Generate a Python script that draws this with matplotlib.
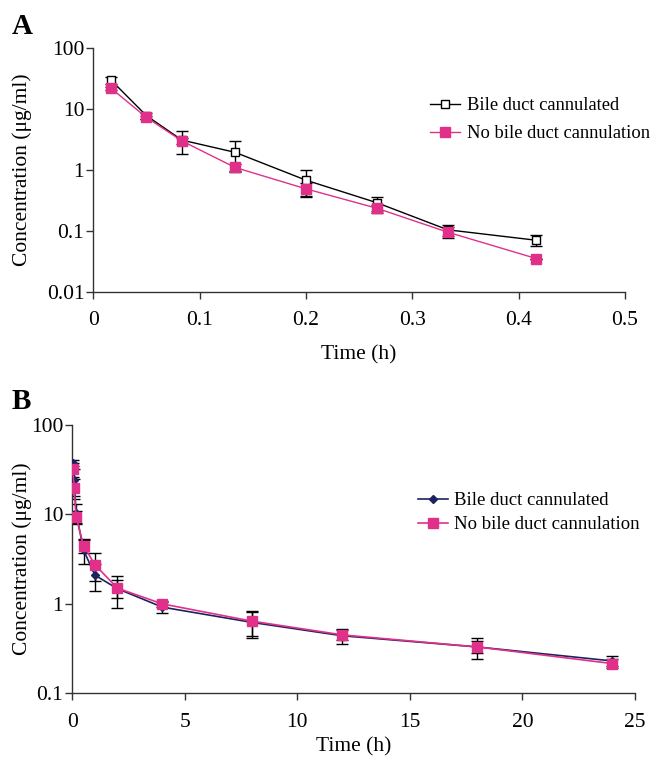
import numpy as np
import matplotlib.pyplot as plt
from matplotlib.ticker import FixedLocator, FuncFormatter, NullLocator

plt.rcParams['font.family'] = ['Liberation Serif', 'DejaVu Serif']
plt.rcParams['mathtext.fontset'] = 'stix'

# %% Panel A data (time in h)
tA = [1/60, 3/60, 5/60, 8/60, 12/60, 16/60, 20/60, 25/60]
bileA = [30, 7.8, 3.1, 1.95, 0.68, 0.29, 0.104, 0.070]
bileA_err = [4, 0.8, 1.3, 1.0, 0.32, 0.075, 0.022, 0.014]
noA = [22, 7.3, 3.0, 1.1, 0.49, 0.235, 0.095, 0.035]
noA_err = [1.0, 0.4, 0.3, 0.17, 0.11, 0.035, 0.02, 0.0]

# %% Panel B data (time in h)
tB = [1/60, 5/60, 10/60, 0.5, 1, 2, 4, 8, 12, 18, 24]
bileB = [38, 24, 10.5, 4.0, 2.1, 1.48, 0.92, 0.62, 0.44, 0.33, 0.23]
bileB_err = [3, 8, 2.5, 1.2, 0.7, 0.58, 0.12, 0.2, 0.08, 0.09, 0.03]
noB = [32, 20, 9.4, 4.47, 2.75, 1.5, 1.0, 0.64, 0.45, 0.33, 0.215]
noB_err = [6, 5, 1.5, 0.8, 0.95, 0.35, 0.08, 0.2, 0.06, 0.05, 0.025]

pink = "#e0308a"
navy = "#1c2260"
fs = 15.5

fig = plt.figure(figsize=(6.52, 7.64), dpi=100)
axA = fig.add_axes([0.1431, 0.6182, 0.8155, 0.3186])
axB = fig.add_axes([0.1109, 0.0925, 0.8630, 0.3512])


def style(ax, yticks):
    ax.set_yscale("log")
    for s in ["top", "right"]:
        ax.spines[s].set_visible(False)
    for s in ["left", "bottom"]:
        ax.spines[s].set_color("#333333")
        ax.spines[s].set_linewidth(1.0)
    ax.yaxis.set_major_locator(FixedLocator(yticks))
    ax.yaxis.set_minor_locator(NullLocator())
    ax.yaxis.set_major_formatter(FuncFormatter(lambda v, p: "%g" % v))
    ax.tick_params(direction="out", length=5, width=1, color="#333333",
                   labelsize=fs)
    ax.tick_params(axis="x", pad=9)
    ax.tick_params(axis="y", pad=1.5)
    ax.set_ylabel("Concentration (μg/ml)", fontsize=fs)


# %% Panel A
axA.errorbar(tA, bileA, yerr=bileA_err, fmt="none", ecolor="black",
             elinewidth=1, capsize=4, capthick=1, zorder=2)
axA.errorbar(tA, noA, yerr=noA_err, fmt="none", ecolor="black",
             elinewidth=1, capsize=4, capthick=1, zorder=2)
axA.plot(tA, bileA, "-s", color="black", lw=1, mfc="white", mec="black",
         ms=6, mew=1, label="Bile duct cannulated", zorder=3)
axA.plot(tA, noA, "-s", color=pink, lw=1, mfc=pink, mec=pink,
         ms=6.5, label="No bile duct cannulation", zorder=4)
style(axA, [0.01, 0.1, 1, 10, 100])
axA.set_xlim(0, 0.5)
axA.set_ylim(0.01, 100)
axA.set_xticks([0, 0.1, 0.2, 0.3, 0.4, 0.5])
axA.xaxis.set_major_formatter(FuncFormatter(lambda v, p: "%g" % v))
axA.set_xlabel("Time (h)", fontsize=fs, labelpad=11)
axA.yaxis.set_label_coords(-0.115, 0.5)
axA.legend(loc="upper left", bbox_to_anchor=(0.616, 0.837), frameon=False,
           fontsize=13.3, handlelength=1.62, handletextpad=0.38,
           labelspacing=0.6, borderpad=0)

# %% Panel B
axB.errorbar(tB, bileB, yerr=bileB_err, fmt="none", ecolor="black",
             elinewidth=1, capsize=4, capthick=1, zorder=2)
axB.errorbar(tB, noB, yerr=noB_err, fmt="none", ecolor="black",
             elinewidth=1, capsize=4, capthick=1, zorder=2)
axB.plot(tB, bileB, "-D", color=navy, lw=1.2, mfc=navy, mec=navy,
         ms=4.5, label="Bile duct cannulated", zorder=3)
axB.plot(tB, noB, "-s", color=pink, lw=1.2, mfc=pink, mec=pink,
         ms=6.5, label="No bile duct cannulation", zorder=4)
style(axB, [0.1, 1, 10, 100])
axB.set_xlim(0, 25)
axB.set_ylim(0.1, 100)
axB.set_xticks([0, 5, 10, 15, 20, 25])
axB.set_xlabel("Time (h)", fontsize=fs, labelpad=4)
axB.yaxis.set_label_coords(-0.0716, 0.5)
axB.legend(loc="upper left", bbox_to_anchor=(0.597, 0.785), frameon=False,
           fontsize=13.5, handlelength=1.6, handletextpad=0.32,
           labelspacing=0.36, borderpad=0)

fig.text(0.018, 0.965, "A", fontsize=21, fontweight="bold", va="center")
fig.text(0.018, 0.474, "B", fontsize=21, fontweight="bold", va="center")

fig.savefig("out.png", dpi=100)
